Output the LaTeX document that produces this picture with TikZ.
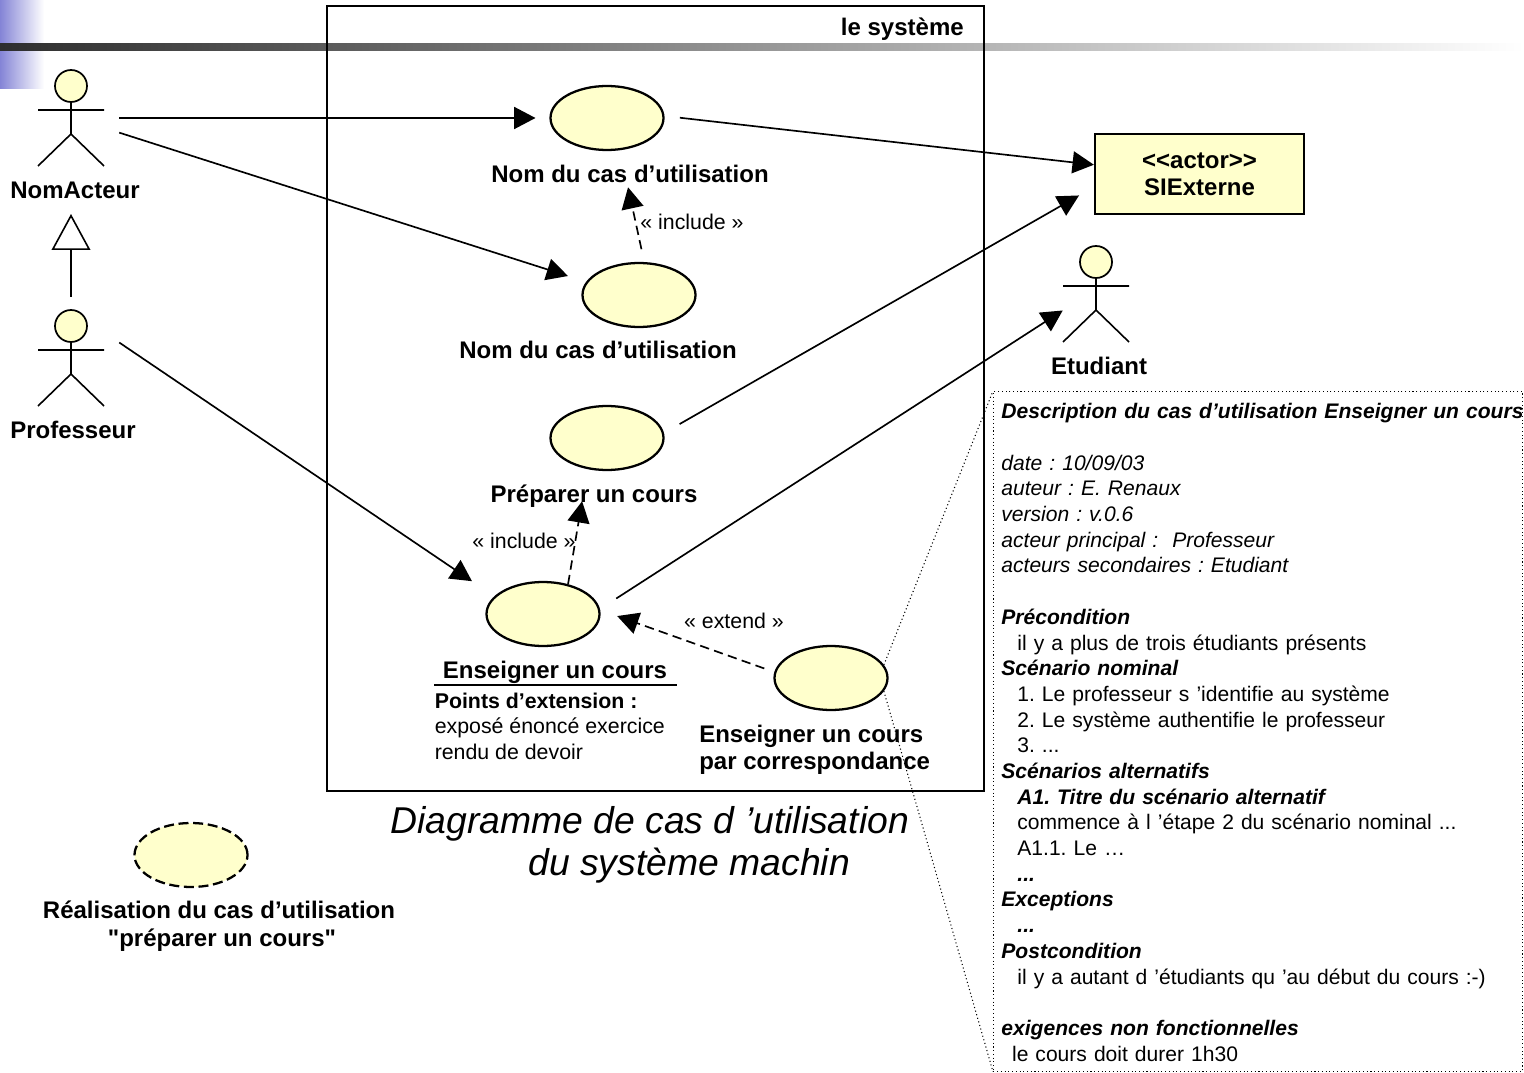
\documentclass[tikz,border=0pt]{standalone}
\usepackage{fontspec}
\setmainfont{Liberation Sans}
\newfontfamily\rawfont{Liberation Sans}
\usetikzlibrary{arrows.meta,shapes.geometric}
\definecolor{ucfill}{HTML}{FFFFCC}
\definecolor{slideblue}{HTML}{8484D6}
\tikzset{
  x=0.75pt,y=-0.75pt,
  usecase/.style={ellipse,draw=black,fill=ucfill,line width=1.7pt,minimum width=84.75pt,minimum height=48pt,inner sep=0pt},
  realcase/.style={usecase,dash pattern=on 7.5pt off 3.5pt},
  actorbox/.style={rectangle,minimum width=60pt,minimum height=72pt,inner sep=0pt},
  assoc/.style={line width=1.25pt,-{Triangle[length=16pt,width=16.5pt]}},
  depend/.style={assoc,dash pattern=on 7pt off 4pt},
  callout/.style={line width=0.8pt,dotted},
  blabel/.style={font=\fontsize{18}{21}\selectfont\bfseries,inner sep=0pt},
  plabel/.style={font=\fontsize{16}{19}\selectfont,inner sep=0pt},
  actorfig/.pic={
    \draw[line width=1.3pt,fill=ucfill] (0,0) circle[radius=16];
    \draw[line width=1.2pt] (0,16) -- (0,48) (-33,24) -- (33,24) (-33,80) -- (0,48) -- (33,80);
  }
}
\begin{document}
\frenchspacing
\begin{tikzpicture}
\useasboundingbox (0,0) rectangle (1524,1073);
% slide decoration
\shade[left color=slideblue,right color=white,draw=none] (0,0) rectangle (44,89);
\shade[left color=black!82,right color=white,draw=none] (0,44) rectangle (1524,51);
% system boundary
\node[draw=black,line width=1.9pt,rectangle,minimum width=492.75pt,minimum height=588.75pt,inner sep=0pt] (sys) at (655.5,398.5) {};
\node[blabel,anchor=east] (systitle) at (964,29) {le système};
% actors
\node[actorbox] (na) at (79,118) {};
\pic at (71,86) {actorfig};
\node[blabel] (nalabel) at (75,190) {NomActeur};
\node[actorbox] (prof) at (79,358) {};
\pic at (71,326) {actorfig};
\node[blabel] (proflabel) at (73,430) {Professeur};
\node[actorbox,minimum width=48.75pt] (etu) at (1095.5,294.5) {};
\pic at (1096,262) {actorfig};
\node[blabel] (etulabel) at (1099,366) {Etudiant};
\node[rectangle,draw=black,fill=ucfill,line width=1.7pt,minimum width=156.75pt,minimum height=60pt,inner sep=0pt,align=center,font=\fontsize{18}{20.3}\selectfont\bfseries] (sie) at (1199.5,174) {<{}<actor>{}>\\SIExterne};
% use cases
\node[usecase] (uc1) at (607,118) {};
\node[blabel] (l1) at (630,174) {Nom du cas d’utilisation};
\node[usecase] (uc2) at (639,295) {};
\node[blabel] (l2) at (598,350) {Nom du cas d’utilisation};
\node[usecase] (uc3) at (607,438) {};
\node[blabel] (l3) at (594,496) {Préparer un cours};
\node[usecase] (uc4) at (543,614) {};
\node[blabel] (l4) at (555,672) {Enseigner un cours};
\coordinate (ulleft) at (434,685);
\coordinate (ulright) at (677,685);
\draw[line width=1.3pt] (ulleft) -- (ulright);
\node[font=\fontsize{16}{19.3}\selectfont,inner sep=0pt,anchor=north west,align=left] (ext) at (434.5,692.5) {\textbf{Points d’extension :}\\exposé énoncé exercice\\rendu de devoir};
\node[usecase] (uc5) at (831,678) {};
\node[blabel,align=left,anchor=north west,font=\fontsize{18}{20.3}\selectfont\bfseries] (l5) at (699,725) {Enseigner un cours\\par correspondance};
\node[realcase] (uc6) at (191,855) {};
\node[blabel,align=center] (l6) at (219,926.5) {Réalisation du cas d’utilisation\\\hspace*{4.5pt}{\rawfont\bfseries "préparer un cours"}};
% note
\node[rectangle,draw=black,callout,line width=0.6pt,minimum width=396.75pt,minimum height=510pt,inner xsep=6pt,inner ysep=0pt,anchor=north west,text width=384.75pt,align=left,font=\fontsize{15.8}{19.27}\selectfont] (note) at (993,391) {\makebox[380pt][l]{\rule{0pt}{13pt}\textbf{\textit{Description du cas d’utilisation Enseigner un cours}}}\\
\mbox{}\\
\textit{date : 10/09/03}\\
\textit{auteur : E. Renaux}\\
\textit{version : v.0.6}\\
\textit{acteur principal :\ \ Professeur}\\
\textit{acteurs secondaires : Etudiant}\\
\mbox{}\\
\textbf{\textit{Précondition}}\\
\hspace*{12pt}il y a plus de trois étudiants présents\\
\textbf{\textit{Scénario nominal}}\\
\hspace*{12pt}1. Le professeur s ’identifie au système\\
\hspace*{12pt}2. Le système authentifie le professeur\\
\hspace*{12pt}3. ...\\
\textbf{\textit{Scénarios alternatifs}}\\
\hspace*{12pt}\textbf{\textit{A1. Titre du scénario alternatif}}\\
\hspace*{12pt}commence à l ’étape 2 du scénario nominal ...\\
\hspace*{12pt}A1.1. Le …\\
\hspace*{12pt}\textbf{\textit{...}}\\
\textbf{\textit{Exceptions}}\\
\hspace*{12pt}\textbf{\textit{...}}\\
\textbf{\textit{Postcondition}}\\
\hspace*{12pt}il y a autant d ’étudiants qu ’au début du cours :-)\\
\mbox{}\\
\textbf{\textit{exigences non fonctionnelles}}\\
\hspace*{8pt}le cours doit durer 1h30};
% captions
\node[font=\fontsize{28}{32}\selectfont\itshape,inner sep=0pt,anchor=west] (cap1) at (390,824) {Diagramme de cas d ’utilisation};
\node[font=\fontsize{28}{32}\selectfont\itshape,inner sep=0pt,anchor=west] (cap2) at (528,866) {du système machin};
% stereotypes
\node[plabel] (inc1) at (692,222) {« include »};
\node[plabel] (inc2) at (524,541) {« include »};
\node[plabel] (ext1) at (734,621) {« extend »};
% associations
\draw[assoc,shorten >=10.4pt] (na.east) -- (uc1.west);
\draw[assoc,shorten >=14.3pt] (na.-20.6) -- (uc2.166);
\draw[assoc,shorten >=20.2pt] (prof.21.8) -- (uc4.160.7);
\draw[assoc,shorten <=11.6pt] (uc1.2) -- (sie.175.1);
\draw[assoc,shorten <=13.5pt,shorten >=12.8pt] (uc3.5.1) -- (sie.187.6);
\draw[assoc,shorten <=14.5pt] (uc4.5.75) -- (etu.206.9);
\draw[depend,shorten <=9.8pt,shorten >=28.4pt] (uc2.81.6) -- (uc1.-68);
\draw[depend,shorten >=24.4pt] (uc4.50) -- (uc3.-122.8);
\draw[depend,shorten <=8pt,shorten >=13.5pt] (uc5.174.4) -- (uc4.4.1);
% generalisation
\coordinate (genfrom) at (71,297);
\coordinate (gento) at (71,214);
\draw[line width=1.2pt,-{Triangle[open,length=27pt,width=29pt,fill=white]}] (genfrom) -- (gento);
% note links
\draw[callout] (uc5.14) -- (note.north west);
\draw[callout] (uc5.-14) -- (note.south west);
\end{tikzpicture}
\end{document}
